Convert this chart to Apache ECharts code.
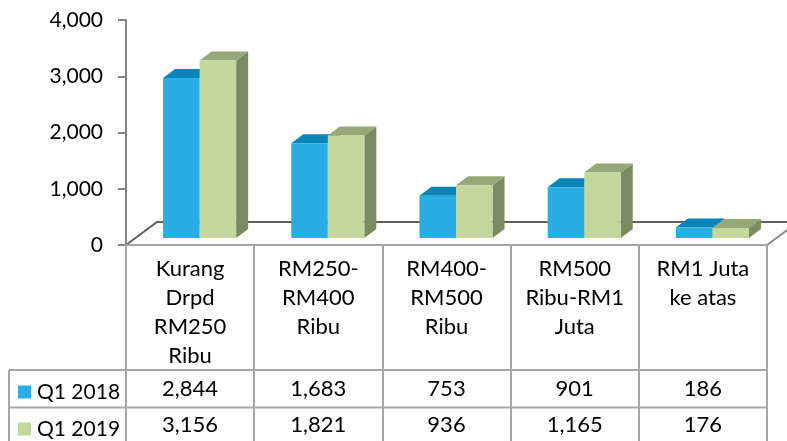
<!DOCTYPE html>
<html>
<head>
<meta charset="utf-8">
<script src="https://cdn.jsdelivr.net/npm/echarts@6/dist/echarts.min.js"></script>
<style>
  html, body { margin: 0; padding: 0; background: #ffffff; }
  #chart { width: 787px; height: 441px; }
</style>
</head>
<body>
<div id="chart"></div>
<script>
// Income bands (line breaks as shown in the table header)
const categories = [
  'Kurang\nDrpd\nRM250\nRibu',
  'RM250-\nRM400\nRibu',
  'RM400-\nRM500\nRibu',
  'RM500\nRibu-RM1\nJuta',
  'RM1 Juta\nke atas'
];
const seriesNames = ['Q1 2018', 'Q1 2019'];
const q1_2018 = [2844, 1683, 753, 901, 186];
const q1_2019 = [3156, 1821, 936, 1165, 176];
const yTicks = [0, 1000, 2000, 3000, 4000];

const FONT = 'Lato, "Liberation Sans", sans-serif';
const fmt = v => v.toLocaleString('en-US');

// face colours per series: front, top, side
const palette = [
  { front: '#2AADE3', top: '#0A85B8', side: '#1B7FA8' },
  { front: '#C3D69B', top: '#97A878', side: '#7B8A60' }
];

// pseudo-3D geometry (pixels)
const floorDepth = [31, -23];   // floor receding offset
const faceShift = [9.5, -7];    // bar front face inside the floor
const barDepth = [12, -9];      // bar thickness
const rowCenters = [388.5, 424.5];
const legendTops = [381.5, 418.5];

const chart = echarts.init(document.getElementById('chart'), null, { renderer: 'canvas' });

function barSeries(s, values) {
  return {
    type: 'custom',
    name: seriesNames[s],
    z: 3,
    itemStyle: { color: palette[s].front },
    encode: { x: 0, y: 1 },
    data: values.map((v, i) => [i, v]),
    renderItem: function (params, api) {
      const i = api.value(0), v = api.value(1);
      const band = api.size([1, 0])[0];
      const base = api.coord([i, 0]);
      const top = api.coord([i, v]);
      const barW = band * 0.285;
      const x0 = base[0] + faceShift[0] + (s === 0 ? -barW : 0);
      const x1 = x0 + barW;
      const yb = base[1] + faceShift[1];
      const yt = top[1] + faceShift[1];
      const dx = barDepth[0], dy = barDepth[1];
      const c = palette[s];
      return {
        type: 'group',
        children: [
          {
            type: 'polygon',
            shape: { points: [[x1, yt], [x1 + dx, yt + dy], [x1 + dx, yb + dy], [x1, yb]] },
            style: { fill: c.side }
          },
          {
            type: 'polygon',
            shape: { points: [[x0, yt], [x0 + dx, yt + dy], [x1 + dx, yt + dy], [x1, yt]] },
            style: { fill: c.top }
          },
          {
            type: 'rect',
            shape: { x: x0, y: yt, width: barW, height: yb - yt },
            style: { fill: c.front }
          },
          {
            type: 'text',
            x: base[0],
            y: rowCenters[s],
            style: {
              text: fmt(v),
              fill: '#000000',
              font: '22px ' + FONT,
              align: 'center',
              verticalAlign: 'middle'
            }
          }
        ]
      };
    }
  };
}

// floor of the plot area (drawn behind the bars)
const floorSeries = {
  type: 'custom',
  name: 'floor',
  z: 1,
  silent: true,
  encode: { x: 0, y: 1 },
  data: [[0, 0]],
  renderItem: function (params, api) {
    const band = api.size([1, 0])[0];
    const first = api.coord([0, 0]);
    const last = api.coord([categories.length - 1, 0]);
    const xl = first[0] - band / 2;
    const xr = last[0] + band / 2;
    const y0 = first[1];
    const fx = floorDepth[0], fy = floorDepth[1];
    return {
      type: 'group',
      children: [
        {
          type: 'polyline',
          shape: { points: [[xl, y0], [xl + fx, y0 + fy], [xr + fx, y0 + fy]] },
          style: { stroke: '#5f5f5f', lineWidth: 2, fill: null }
        },
        {
          type: 'line',
          shape: { x1: xr, y1: y0, x2: xr + fx, y2: y0 + fy },
          style: { stroke: '#8c8c8c', lineWidth: 2 }
        }
      ]
    };
  }
};

// one legend block per table row
const legends = seriesNames.map((name, k) => ({
  left: 18,
  top: legendTops[k],
  padding: 0,
  itemWidth: 13,
  itemHeight: 13,
  icon: 'rect',
  data: [name],
  selectedMode: false,
  textStyle: { fontFamily: FONT, fontSize: 21, color: '#000000', padding: [0, 0, 0, 1] }
}));

chart.setOption({
  backgroundColor: '#ffffff',
  animation: false,
  grid: { left: 126, right: 20, top: 20, bottom: 196, containLabel: false },
  legend: legends,
  xAxis: {
    type: 'category',
    data: categories,
    boundaryGap: true,
    axisLine: { show: true, lineStyle: { color: '#a6a6a6', width: 2 } },
    axisTick: { show: true, interval: 0, length: 200, lineStyle: { color: '#a6a6a6', width: 2 } },
    axisLabel: {
      interval: 0,
      margin: 9,
      fontFamily: FONT,
      fontSize: 22,
      lineHeight: 29,
      color: '#000000',
      align: 'center',
      verticalAlign: 'top'
    },
    splitLine: { show: false },
    z: 2
  },
  yAxis: {
    type: 'value',
    min: yTicks[0],
    max: yTicks[yTicks.length - 1],
    interval: yTicks[1] - yTicks[0],
    axisLine: { show: true, lineStyle: { color: '#868686', width: 2 } },
    axisTick: { show: true, length: 8, lineStyle: { color: '#868686', width: 2 } },
    axisLabel: {
      margin: 23,
      fontFamily: FONT,
      fontSize: 21,
      color: '#000000',
      formatter: v => fmt(v)
    },
    splitLine: { show: false },
    z: 2
  },
  graphic: [
    { type: 'line', shape: { x1: 9, y1: 370, x2: 767, y2: 370 }, style: { stroke: '#a6a6a6', lineWidth: 2 }, z: 5 },
    { type: 'line', shape: { x1: 9, y1: 407.5, x2: 767, y2: 407.5 }, style: { stroke: '#a6a6a6', lineWidth: 2 }, z: 5 },
    { type: 'line', shape: { x1: 9, y1: 370, x2: 9, y2: 445 }, style: { stroke: '#a6a6a6', lineWidth: 2 }, z: 5 }
  ],
  series: [floorSeries, barSeries(0, q1_2018), barSeries(1, q1_2019)]
});
</script>
</body>
</html>
